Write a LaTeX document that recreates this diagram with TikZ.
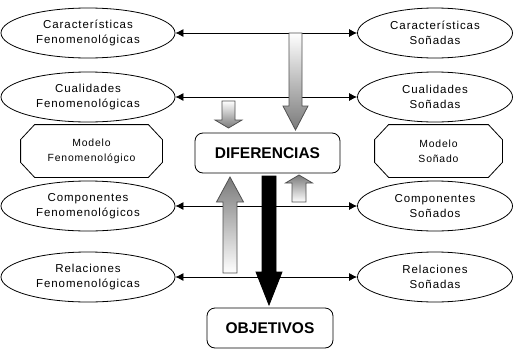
\documentclass[tikz,border=0pt]{standalone}
\usepackage{fontspec}
\setmainfont{Liberation Sans}
\newfontfamily\lblfont[LetterSpace=8]{Liberation Sans}
\usetikzlibrary{positioning, shapes.geometric, arrows.meta}
\definecolor{arrgray}{HTML}{7A7A7A}
\definecolor{edgegray}{HTML}{505050}

% block arrow: x, tail y, head start y, tip y, half shaft, half head, style
\newcommand{\blockarr}[7]{%
  \path[#7] (#1-#5,#2) -- (#1+#5,#2) -- (#1+#5,#3) -- (#1+#6,#3)
    -- (#1,#4) -- (#1-#6,#3) -- (#1-#5,#3) -- cycle;}

\tikzset{
  oval/.style={ellipse, draw, minimum height=50pt, inner sep=0pt, align=center,
    font=\lblfont\fontsize{11.5}{15}\selectfont},
  octo/.style={rectangle, inner sep=0pt, minimum height=52pt,
    align=center, font=\lblfont\fontsize{10.4}{15}\selectfont},
  goalbox/.style={rectangle, draw, rounded corners=8pt, minimum height=40pt,
    font=\bfseries\fontsize{15.5}{18}\selectfont},
  link/.style={{Latex[length=8pt,width=8pt]}-{Latex[length=8pt,width=8pt]}},
  downshade/.style={shade, top color=white, bottom color=arrgray, draw=edgegray},
  upshade/.style={shade, top color=arrgray, bottom color=white, draw=edgegray},
  solidarr/.style={fill=black, draw=black}
}

\begin{document}
\begin{tikzpicture}[x=1pt, y=-1pt, line width=0.8pt]
  \useasboundingbox (0,0) rectangle (519,351);

  % phenomenological side
  \node[oval, minimum width=174pt] (f1) at (88,33) {Características\\Fenomenológicas};
  \node[oval, minimum width=174pt] (f2) at (88,97) {Cualidades\\Fenomenológicas};
  \node[octo, minimum width=141pt] (fm) at (91.5,151) {Modelo\\Fenomenológico};
  \node[oval, minimum width=174pt] (f3) at (88,206) {Componentes\\Fenomenológicos};
  \node[oval, minimum width=174pt] (f4) at (88,277) {Relaciones\\Fenomenológicas};

  % dreamed side
  \node[oval, minimum width=155pt] (s1) at (435,33) {Características\\Soñadas};
  \node[oval, minimum width=155pt] (s2) at (435,97) {Cualidades\\Soñadas};
  \node[octo, minimum width=127pt] (sm) at (438.5,151) {Modelo\\Soñado};
  \node[oval, minimum width=155pt] (s3) at (435,206) {Componentes\\Soñados};
  \node[oval, minimum width=155pt] (s4) at (435,277) {Relaciones\\Soñadas};

  \node[goalbox, minimum width=145pt] (dif) at (267.5,153) {DIFERENCIAS};
  \node[goalbox, minimum width=126pt] (obj) at (270,328) {OBJETIVOS};

  % octagon outlines for the two models
  \foreach \m in {fm, sm}
    \draw ([xshift=14pt]\m.north west) -- ([xshift=-14pt]\m.north east)
      -- ([yshift=-15pt]\m.north east) -- ([yshift=15pt]\m.south east)
      -- ([xshift=-14pt]\m.south east) -- ([xshift=14pt]\m.south west)
      -- ([yshift=15pt]\m.south west) -- ([yshift=-15pt]\m.north west) -- cycle;

  \foreach \i in {1,...,4}
    \draw[link] (f\i.east) -- (s\i.west);

  % block arrows
  \blockarr{295.5}{33}{106}{130}{6.5}{12.5}{downshade}
  \blockarr{228.5}{101}{120}{128}{6.5}{13.5}{downshade}
  \blockarr{230}{273}{202}{177}{7}{13.5}{upshade}
  \blockarr{299}{202}{183}{175}{7}{13.5}{upshade}
  \blockarr{269}{176}{272}{305}{7}{13}{solidarr}
\end{tikzpicture}
\end{document}
